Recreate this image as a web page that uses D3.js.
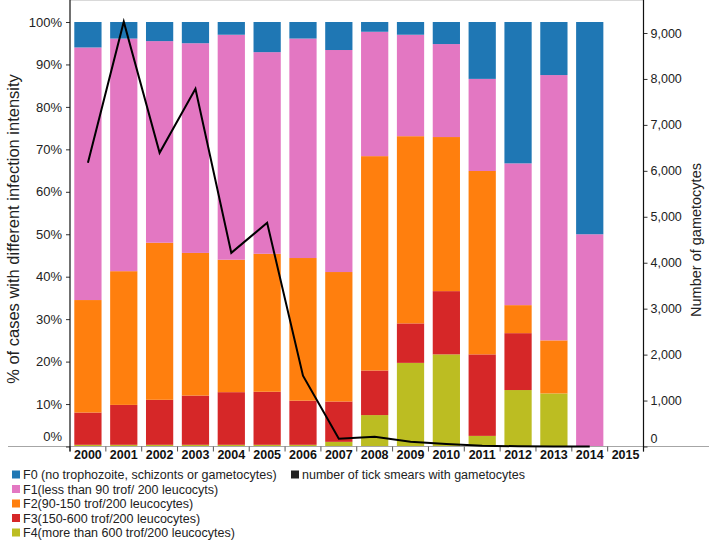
<!DOCTYPE html>
<html>
<head>
<meta charset="utf-8">
<script src="https://cdn.jsdelivr.net/npm/d3@7"></script>
<style>
  body { margin: 0; background: #fff; }
  svg { display: block; font-family: "Liberation Sans", Arial, sans-serif; }
</style>
</head>
<body>
<svg id="chart" width="709" height="542"></svg>
<script>
// ---- data ----
const years = ["2000","2001","2002","2003","2004","2005","2006","2007","2008","2009","2010","2011","2012","2013","2014","2015"];
// percentages of cases per intensity class (bottom to top: F4, F3, F2, F1, F0)
const F4 = [0.4, 0.4, 0.4, 0.4, 0.4, 0.4, 0.4, 1.1, 7.4, 19.7, 21.7, 2.5, 13.3, 12.5, 0, 0];
const F3 = [7.6, 9.4, 10.6, 11.6, 12.4, 12.5, 10.4, 9.5, 10.5, 9.3, 14.9, 19.2, 13.4, 0, 0, 0];
const F2 = [26.5, 31.5, 37.0, 33.6, 31.2, 32.5, 33.6, 30.5, 50.5, 44.1, 36.3, 43.2, 6.6, 12.5, 0, 0];
const F1 = [59.5, 54.8, 47.5, 49.4, 53.0, 47.5, 51.7, 52.3, 29.3, 23.9, 21.9, 21.7, 33.4, 62.5, 50, 0];
const F0 = [6.0, 3.9, 4.5, 5.0, 3.0, 7.1, 3.9, 6.6, 2.3, 3.0, 5.2, 13.4, 33.3, 12.5, 50, 0];
// number of thick smears with gametocytes (right axis)
const gametocytes = [6175, 9246, 6393, 7787, 4215, 4868, 1542, 170, 213, 105, 54, 17, 5, 2, 0, null];
const leftTicks = [0, 10, 20, 30, 40, 50, 60, 70, 80, 90, 100];
const rightTicks = [0, 1000, 2000, 3000, 4000, 5000, 6000, 7000, 8000, 9000];
const seriesKeys = ["F4", "F3", "F2", "F1", "F0"];
const seriesColors = { F0: "#1f77b4", F1: "#e377c2", F2: "#ff7f0e", F3: "#d62728", F4: "#bcbd22" };
const legendLabels = [
  ["F0", "F0 (no trophozoite, schizonts or gametocytes)"],
  ["F1", "F1(less than 90 trof/ 200 leucocyts)"],
  ["F2", "F2(90-150 trof/200 leucocytes)"],
  ["F3", "F3(150-600 trof/200 leucocytes)"],
  ["F4", "F4(more than 600 trof/200 leucocytes)"]
];
const lineLabel = "number of tick smears with gametocytes";

// ---- layout ----
const svg = d3.select("#chart");
const X0 = 70, X1 = 643.5, Y0 = 446.5, YTOP = 0;

const table = years.map((y, i) => ({ year: y, F0: F0[i], F1: F1[i], F2: F2[i], F3: F3[i], F4: F4[i] }));
const stacked = d3.stack().keys(seriesKeys)(table);

const x = d3.scaleBand().domain(years).range([X0, X1]).paddingInner(0.24).paddingOuter(0.12);
const y = d3.scaleLinear().domain([0, 100]).range([Y0, 22]);
const y2 = d3.scaleLinear().domain([0, 9000]).range([Y0, 33]);

// top frame line
svg.append("line").attr("x1", X0).attr("x2", X1).attr("y1", 0.5).attr("y2", 0.5)
  .attr("stroke", "#d9d9d9").attr("stroke-width", 1);

// bars
svg.append("g").selectAll("g").data(stacked).join("g")
  .attr("fill", d => seriesColors[d.key])
  .selectAll("rect").data(d => d).join("rect")
  .attr("x", d => x(d.data.year))
  .attr("width", x.bandwidth())
  .attr("y", d => y(d[1]))
  .attr("height", d => Math.max(0, y(d[0]) - y(d[1])));

// horizontal baseline
svg.append("line").attr("x1", 8).attr("x2", 709).attr("y1", Y0).attr("y2", Y0)
  .attr("stroke", "#a6a6a6").attr("stroke-width", 1.2);

// category tick marks
const step = x.step();
svg.append("g").selectAll("line").data(d3.range(years.length + 1)).join("line")
  .attr("x1", i => X0 + i * step).attr("x2", i => X0 + i * step)
  .attr("y1", Y0).attr("y2", Y0 + 5)
  .attr("stroke", "#555").attr("stroke-width", 1);

// year labels
svg.append("g").selectAll("text").data(years).join("text")
  .attr("x", d => x(d) + x.bandwidth() / 2)
  .attr("y", 459)
  .attr("text-anchor", "middle")
  .attr("font-size", 12.5).attr("font-weight", "bold").attr("fill", "#111")
  .text(d => d);

// left axis
const leftAxis = d3.axisLeft(y).tickValues(leftTicks).tickSize(4).tickFormat(d => d + "%");
const gl = svg.append("g").attr("transform", `translate(${X0},0)`).call(leftAxis);
gl.select(".domain").remove();
gl.selectAll(".tick line").attr("stroke", "#333");
gl.selectAll(".tick text").attr("font-size", 13).attr("fill", "#222")
  .attr("font-family", "Liberation Sans, Arial, sans-serif").attr("dx", "-1");
gl.selectAll(".tick").filter(d => d === 0).select("text").attr("dy", "-0.45em");
svg.append("line").attr("x1", X0).attr("x2", X0).attr("y1", YTOP).attr("y2", Y0 + 5)
  .attr("stroke", "#111").attr("stroke-width", 1.2);

// right axis
const rightAxis = d3.axisRight(y2).tickValues(rightTicks).tickSize(4).tickFormat(d3.format(","));
const gr = svg.append("g").attr("transform", `translate(${X1},0)`).call(rightAxis);
gr.select(".domain").remove();
gr.selectAll(".tick line").attr("stroke", "#333");
gr.selectAll(".tick text").attr("font-size", 12.5).attr("fill", "#222")
  .attr("font-family", "Liberation Sans, Arial, sans-serif");
gr.selectAll(".tick").filter(d => d === 0).select("text").attr("dy", "-0.35em");
svg.append("line").attr("x1", X1).attr("x2", X1).attr("y1", YTOP).attr("y2", Y0 + 5)
  .attr("stroke", "#111").attr("stroke-width", 1.2);

// line series
const lineGen = d3.line()
  .defined(d => d.v !== null)
  .x(d => x(d.year) + x.bandwidth() / 2)
  .y(d => y2(d.v));
svg.append("path")
  .datum(years.map((yr, i) => ({ year: yr, v: gametocytes[i] })))
  .attr("fill", "none").attr("stroke", "#000").attr("stroke-width", 2)
  .attr("stroke-linejoin", "miter")
  .attr("d", lineGen);

// axis titles
svg.append("text")
  .attr("transform", `translate(19,229) rotate(-90)`)
  .attr("text-anchor", "middle").attr("font-size", 16.5).attr("fill", "#222")
  .text("% of cases with different infection intensity");
svg.append("text")
  .attr("transform", `translate(701,240) rotate(-90)`)
  .attr("text-anchor", "middle").attr("font-size", 14.5).attr("fill", "#222")
  .text("Number of gametocytes");

// legend
const lg = svg.append("g").attr("font-size", 12.5).attr("fill", "#222");
const rowY = [475, 489.5, 504, 518.5, 533];
legendLabels.forEach(([k, label], i) => {
  lg.append("rect").attr("x", 12).attr("y", rowY[i] - 4.5).attr("width", 8).attr("height", 8)
    .attr("fill", seriesColors[k]);
  lg.append("text").attr("x", 23).attr("y", rowY[i]).attr("dy", "0.35em").text(label);
});
lg.append("rect").attr("x", 291).attr("y", rowY[0] - 4.5).attr("width", 8).attr("height", 8).attr("fill", "#222");
lg.append("text").attr("x", 302).attr("y", rowY[0]).attr("dy", "0.35em").text(lineLabel);
</script>
</body>
</html>
